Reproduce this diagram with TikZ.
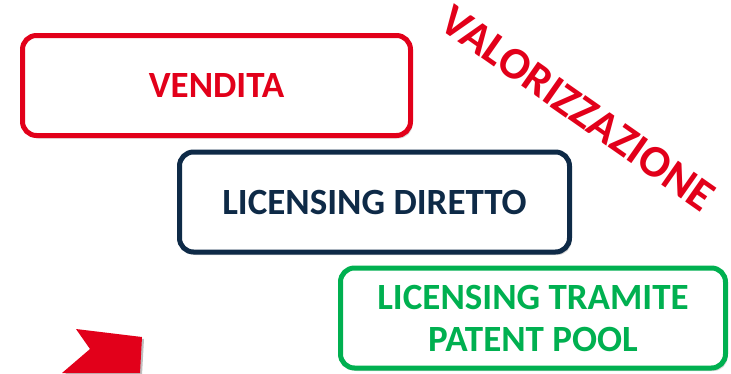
\documentclass[tikz,border=0pt]{standalone}
\usepackage{fontspec}
\setmainfont{Carlito}
\usetikzlibrary{shadows}
\definecolor{vred}{HTML}{E2001A}
\definecolor{vnavy}{HTML}{0E2A47}
\definecolor{vgreen}{HTML}{00B050}
\begin{document}
\begin{tikzpicture}[x=1pt,y=-1pt,
  box/.style={draw, line width=5pt, rounded corners=14pt, fill=white,
    minimum width=#1, minimum height=100pt, align=center, inner sep=0pt,
    font=\fontsize{37}{42}\selectfont\bfseries,
    drop shadow={opacity=0.3, shadow xshift=2pt, shadow yshift=-3pt}},
  box/.default=388pt]
\useasboundingbox (0,0) rectangle (731,373);
\fill[white] (0,0) rectangle (731,373);
\node[box=388pt, draw=vred, text=vred] (vendita) at (216.5,85.5) {VENDITA};
\node[box=390pt, draw=vnavy, text=vnavy] (diretto) at (374.5,202) {LICENSING DIRETTO};
\node[box=385pt, draw=vgreen, text=vgreen] (pool) at (533,318) {LICENSING TRAMITE\\PATENT POOL};
\node[rotate=-35, text=vred, font=\fontsize{45}{50}\selectfont\bfseries, inner sep=0pt] (valor) at (578,108) {VALORIZZAZIONE};
\fill[black, opacity=0.25] (78,331) -- (144,339) -- (142,375) -- (64,375) -- (92,351) -- cycle;
\fill[vred] (76,329) -- (142,337) -- (140,373) -- (62,373) -- (90,349) -- cycle;
\end{tikzpicture}
\end{document}
